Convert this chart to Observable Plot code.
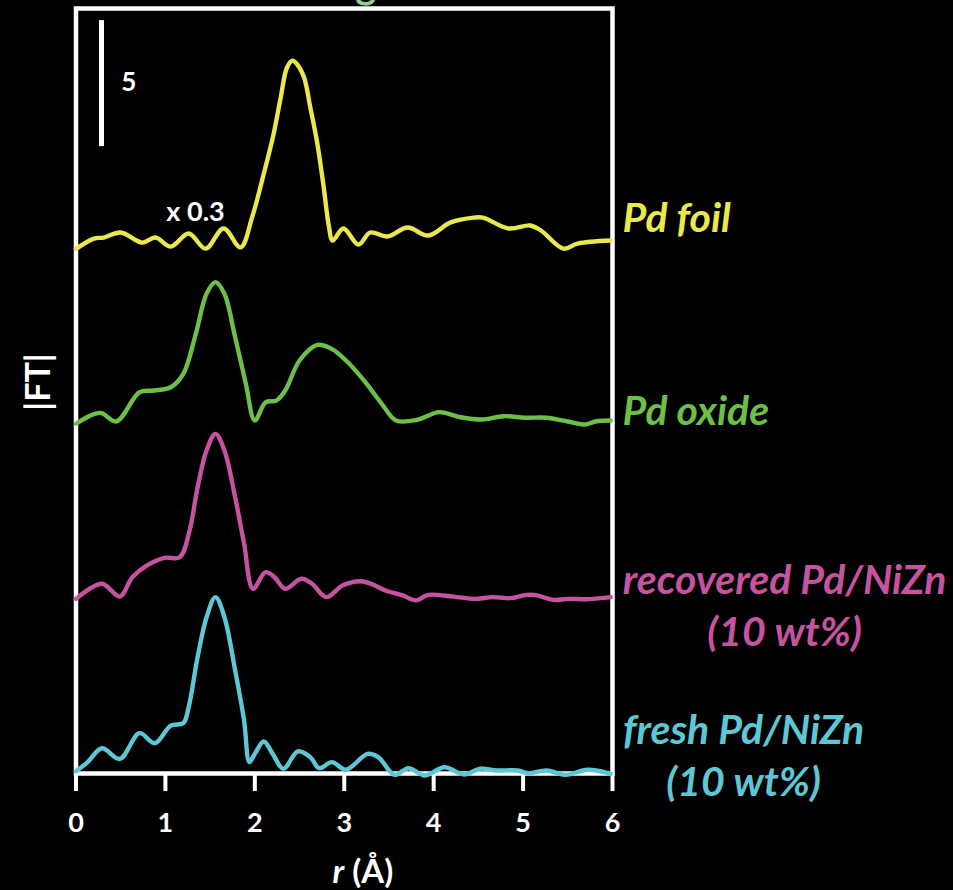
<!DOCTYPE html>
<html>
<head>
<meta charset="utf-8">
<script src="https://cdn.jsdelivr.net/npm/d3@7"></script>
<script src="https://cdn.jsdelivr.net/npm/@observablehq/plot@0.6"></script>
<style>
  html, body { margin: 0; padding: 0; background: #000; }
  #chart { width: 953px; height: 890px; overflow: hidden; }
</style>
</head>
<body>
<div id="chart"></div>
<script>
// ---- Data (|FT| in arbitrary units, Pd foil already multiplied by 0.3) ----
const seriesNames = ["Pd foil", "Pd oxide", "recovered Pd/NiZn\n(10 wt%)", "fresh Pd/NiZn\n(10 wt%)"];
const seriesColors = ["#e9e84c", "#6cbf47", "#c653a0", "#5ec7d5"];
const seriesOffsets = [20.5, 13.5, 6.6, 0];
const xTicks = [0, 1, 2, 3, 4, 5, 6];

const rFoil = [0,0.20,0.31,0.50,0.74,0.89,1.06,1.26,1.45,1.65,1.84,1.97,2.10,2.21,2.29,2.36,2.42,2.47,2.55,2.62,2.70,2.77,2.83,2.87,2.99,3.16,3.29,3.48,3.71,3.94,4.19,4.45,4.55,4.84,5.08,5.20,5.45,5.61,5.98];
const ftFoil = [0.32,0.73,0.77,0.97,0.57,0.77,0.41,0.93,0.33,1.13,0.38,1.58,3.30,4.88,6.34,7.52,7.79,7.66,7.13,5.94,4.48,2.77,1.18,0.65,1.13,0.49,0.97,0.81,1.17,0.85,1.37,1.56,1.56,1.13,1.25,1.05,0.33,0.53,0.65];

const rOxide = [0,0.27,0.45,0.71,0.87,1.06,1.20,1.34,1.46,1.56,1.66,1.78,1.90,2.00,2.12,2.24,2.34,2.50,2.70,2.86,3.02,3.22,3.42,3.58,3.82,4.06,4.30,4.54,4.78,5.02,5.26,5.50,5.70,5.82,5.98];
const ftOxide = [0.38,0.81,0.47,1.63,1.70,1.83,2.36,3.95,5.54,6.00,5.54,3.81,1.96,0.51,1.23,1.30,1.70,2.89,3.51,3.35,2.89,2.10,1.17,0.51,0.54,0.84,0.64,0.55,0.68,0.62,0.62,0.47,0.35,0.48,0.51];

const rRecovered = [0,0.29,0.49,0.63,0.79,0.99,1.16,1.27,1.36,1.46,1.56,1.66,1.78,1.88,1.98,2.12,2.22,2.34,2.52,2.64,2.80,2.98,3.18,3.30,3.46,3.66,3.80,3.94,4.22,4.46,4.66,4.86,5.02,5.14,5.34,5.50,5.74,5.98];
const ftRecovered = [0.33,0.93,0.42,1.19,1.65,1.96,1.98,3.04,4.76,6.22,6.88,6.22,4.36,2.52,0.73,1.39,1.19,0.73,1.13,0.93,0.40,0.86,1.03,0.93,0.66,0.46,0.27,0.49,0.42,0.33,0.40,0.36,0.48,0.48,0.29,0.33,0.32,0.40];

const rFresh = [0,0.13,0.29,0.49,0.71,0.88,1.06,1.20,1.26,1.36,1.46,1.56,1.66,1.78,1.88,1.94,2.00,2.10,2.20,2.32,2.48,2.62,2.72,2.86,3.02,3.26,3.38,3.56,3.72,3.90,4.12,4.34,4.52,4.70,4.94,5.06,5.26,5.48,5.72,5.98];
const ftFresh = [0.09,0.45,1.00,0.58,1.60,1.20,1.90,2.00,2.63,4.62,6.20,7.00,6.20,4.09,2.10,0.45,0.78,1.27,0.78,0.19,0.88,0.65,0.21,0.45,0.15,0.78,0.65,-0.05,0.21,-0.08,0.25,-0.04,0.19,0.12,0.12,0.01,0.12,-0.05,0.15,-0.01];

const seriesR = [rFoil, rOxide, rRecovered, rFresh];
const seriesFT = [ftFoil, ftOxide, ftRecovered, ftFresh];

// ---- Build tidy table ----
const rows = [];
seriesNames.forEach((name, i) => {
  seriesR[i].forEach((r, j) => rows.push({series: name, r, y: seriesFT[i][j] + seriesOffsets[i]}));
});

const font = "Lato, 'Open Sans', 'DejaVu Sans', sans-serif";
const labelAnchors = [
  {x: 6.113, y: 22.14, anchor: "start"},
  {x: 6.113, y: 14.48, anchor: "start"},
  {x: 7.925, y: 6.77, anchor: "middle"},
  {x: 7.466, y: 0.79, anchor: "middle"}
];

const chart = Plot.plot({
  width: 953,
  height: 890,
  marginLeft: 75.5,
  marginRight: 341,
  marginTop: 8,
  marginBottom: 117,
  style: {background: "#000", color: "#fff", fontFamily: font, overflow: "visible"},
  x: {domain: [0, 6]},
  y: {domain: [0, 30.36], axis: null},
  color: {domain: seriesNames, range: seriesColors},
  marks: [
    // title (cut off at the top in the reference)
    Plot.text(["Pd K-edge EXAFS"], {x: 1.54, y: 30.56, dy: -5, textAnchor: "start", lineAnchor: "bottom",
      fontSize: 40, fontWeight: "bold", fill: "#8fd08f"}),
    Plot.frame({stroke: "#fff", strokeWidth: 4.5}),
    Plot.axisX({ticks: xTicks, tickFormat: d => String(d), tickSize: 18, tickPadding: 21,
      stroke: "#fff", strokeWidth: 4, fontSize: 27, fontWeight: "bold", label: null}),
    Plot.line(rows, {x: "r", y: "y", z: "series", stroke: "series", strokeWidth: 4.4, curve: "catmull-rom"}),
    // scale bar
    Plot.ruleX([0.285], {y1: 24.88, y2: 29.88, stroke: "#fff", strokeWidth: 5}),
    Plot.text(["5"], {x: 0.59, y: 27.42, fontSize: 26, fontWeight: "bold", fill: "#fff"}),
    Plot.text(["x 0.3"], {x: 1.337, y: 22.26, fontSize: 27, fontWeight: "bold", fill: "#fff"}),
    // series labels
    ...seriesNames.map((name, i) => Plot.text([name], {
      x: labelAnchors[i].x, y: labelAnchors[i].y, textAnchor: labelAnchors[i].anchor,
      lineHeight: 1.27, fontSize: 41, fontWeight: "bold", fontStyle: "italic", fill: seriesColors[i]
    })),
    // axis labels
    Plot.text(["|FT|"], {frameAnchor: "left", y: 14.4, dx: -37, rotate: -90, fontSize: 34, fontWeight: "bold", fill: "#fff"}),
    Plot.text(["r"], {x: 3, y: -3.93, dx: 0, textAnchor: "end", fontSize: 33, fontWeight: "bold", fontStyle: "italic", fill: "#fff"}),
    Plot.text(["(Å)"], {x: 3, y: -3.93, dx: 8, textAnchor: "start", fontSize: 33, fontWeight: "bold", fill: "#fff"})
  ]
});
document.getElementById("chart").appendChild(chart);
</script>
</body>
</html>
